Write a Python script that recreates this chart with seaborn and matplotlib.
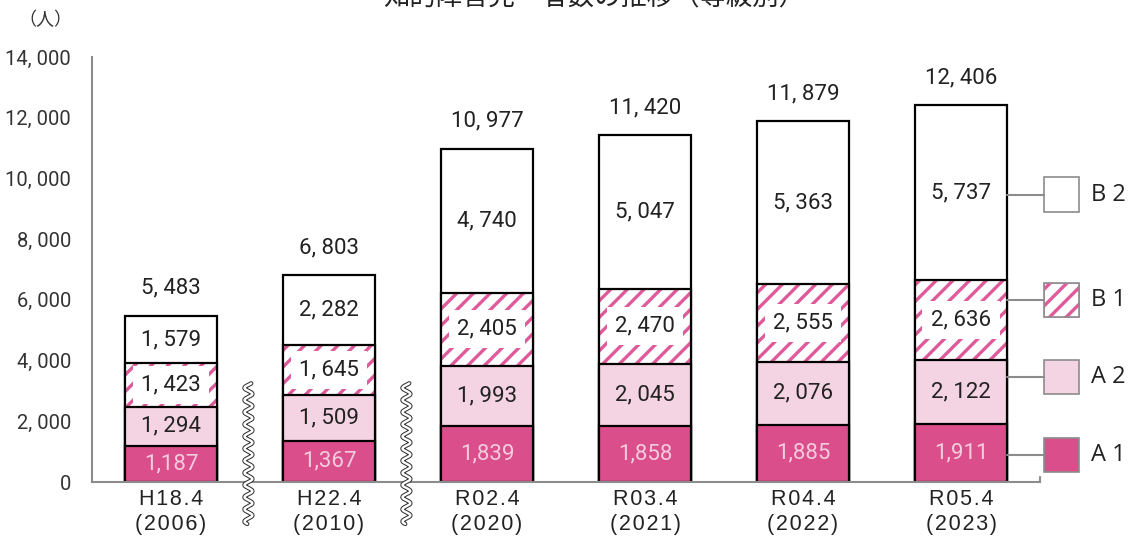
import numpy as np
import pandas as pd
import matplotlib
matplotlib.use("Agg")
import matplotlib.pyplot as plt
from matplotlib.patches import Rectangle
import seaborn as sns

# data
periods = ["H18.4", "H22.4", "R02.4", "R03.4", "R04.4", "R05.4"]
years = ["2006", "2010", "2020", "2021", "2022", "2023"]
a1 = [1187, 1367, 1839, 1858, 1885, 1911]
a2 = [1294, 1509, 1993, 2045, 2076, 2122]
b1 = [1423, 1645, 2405, 2470, 2555, 2636]
b2 = [1579, 2282, 4740, 5047, 5363, 5737]
totals = [5483, 6803, 10977, 11420, 11879, 12406]
yticks = [0, 2000, 4000, 6000, 8000, 10000, 12000, 14000]
grades = ["B 2", "B 1", "A 2", "A 1"]

C_A1 = "#DA4F8B"
C_A2 = "#F4D3E2"
C_HATCH = "#DE5A9A"
GRAY = "#8C8C8C"
TXT = "#222222"
NUM = ["Roboto", "DejaVu Sans"]

sns.set_style("white")
plt.rcParams["font.family"] = ["Noto Sans CJK JP", "DejaVu Sans"]
plt.rcParams["hatch.linewidth"] = 2.4

sp = "\u200a"
labels = [sp.join(p) + "\n" + sp.join("(" + y + ")") for p, y in zip(periods, years)]

df = pd.DataFrame({"label": labels, "a1": a1, "a2": a2, "b1": b1, "b2": b2})
df["c1"] = df["a1"]
df["c2"] = df["c1"] + df["a2"]
df["c3"] = df["c2"] + df["b1"]
df["c4"] = df["c3"] + df["b2"]

fig = plt.figure(figsize=(11.34, 5.43), dpi=100)
ax = fig.add_axes([92 / 1134, 1 - 482 / 543, 948 / 1134, 425 / 543])

W = 0.58
common = dict(data=df, x="label", width=W, errorbar=None, saturation=1, ax=ax)
sns.barplot(y="c4", color="white", edgecolor="black", linewidth=1.6, **common)
sns.barplot(y="c3", color="white", edgecolor=C_HATCH, linewidth=0.5, hatch="//", **common)
sns.barplot(y="c3", fill=False, edgecolor="black", linewidth=1.6, **common)
sns.barplot(y="c2", color=C_A2, edgecolor="black", linewidth=1.6, **common)
sns.barplot(y="c1", color=C_A1, edgecolor="black", linewidth=1.6, **common)

ax.set_xlim(-0.5, 5.5)
ax.set_ylim(0, 14000)
ax.set_xlabel("")
ax.set_ylabel("")
ax.set_yticks(yticks)
ax.set_yticklabels([f"{v:,}".replace(",", ", ") for v in yticks],
                   fontsize=14.5, color="#333333", family=NUM)
ax.tick_params(axis="y", direction="in", length=4, color=GRAY, width=1.2, pad=15)
ax.set_xticks(range(len(labels)))
ax.set_xticklabels(labels, fontsize=15.5, color=TXT, linespacing=1.25,
                   family=["Liberation Sans", "DejaVu Sans"])
ax.tick_params(axis="x", length=0, pad=5)
sns.despine(ax=ax)
for s in ("left", "bottom"):
    ax.spines[s].set_color(GRAY)
    ax.spines[s].set_linewidth(1.5)
ax.plot([5.5, 5.5], [0, 180], color=GRAY, lw=1.5, clip_on=False)

# segment labels
lab = dict(ha="center", va="center", fontsize=16, color=TXT, family=NUM)
for i in range(len(periods)):
    ax.text(i, df["c1"][i] / 2, f"{a1[i]:,}", ha="center", va="center",
            fontsize=16, color="#F6CCDE", family=NUM)
    ax.text(i, df["c1"][i] + a2[i] / 2, f"{a2[i]:,}".replace(",", ", "), **lab)
    ax.text(i, df["c2"][i] + b1[i] / 2, f"{b1[i]:,}".replace(",", ", "),
            bbox=dict(facecolor="white", edgecolor="none", pad=6), **lab)
    ax.text(i, df["c3"][i] + b2[i] / 2, f"{b2[i]:,}".replace(",", ", "), **lab)
    ax.annotate(f"{totals[i]:,}".replace(",", ", "), (i, totals[i]),
                xytext=(0, 20), textcoords="offset points", **lab)

# wavy break marks between the older surveys
yy = np.linspace(-1380, 3250, 500)
for xb in (0.5, 1.5):
    xx = xb - 0.01 + 0.025 * np.sin(2 * np.pi * yy / 400)
    ax.plot(xx, yy, color="#333333", lw=3.2, clip_on=False, zorder=5)
    ax.plot(xx, yy, color="white", lw=1.7, clip_on=False, zorder=6)

# callout legend on the right
leg_y = [9470, 6000, 3460, 890]
leg_face = ["white", "white", C_A2, C_A1]
leg_hatch = [None, "//", None, None]
x_edge = 5 + W / 2
for name, yc, fc, h in zip(grades, leg_y, leg_face, leg_hatch):
    ax.plot([x_edge, 5.525], [yc, yc], color=GRAY, lw=1.5, clip_on=False)
    if h:
        ax.add_patch(Rectangle((5.525, yc - 570), 0.22, 1140, facecolor="white",
                               edgecolor=C_HATCH, hatch=h, lw=0.5, clip_on=False))
    ax.add_patch(Rectangle((5.525, yc - 570), 0.22, 1140, facecolor=fc if not h else "none",
                           edgecolor=GRAY, lw=1.2, clip_on=False))
    ax.text(5.82, yc, name, ha="left", va="center", fontsize=17, color=TXT,
            family=["Open Sans", "DejaVu Sans"])

fig.text(45 / 1134, 1 - 20 / 543, "（人）", ha="center", va="center", fontsize=13, color="#333333")
fig.text(594 / 1134, 1 - 5 / 543, "知的障害児・者数の推移（等級別）", ha="center",
         va="baseline", fontsize=19, color=TXT)

fig.savefig("out.png", dpi=100, facecolor="white")
